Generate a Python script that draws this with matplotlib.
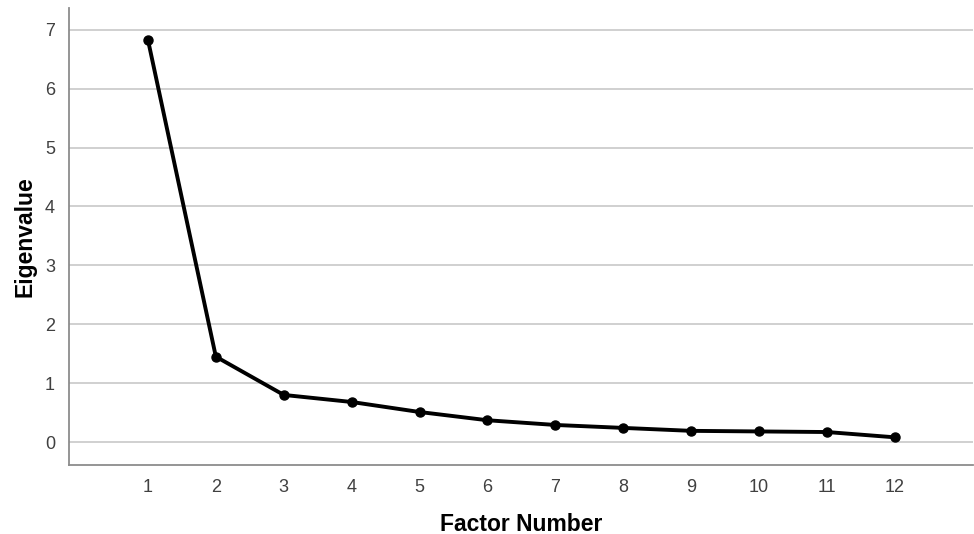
import numpy as np
import matplotlib.pyplot as plt

plt.rcParams['font.family'] = ['Liberation Sans', 'DejaVu Sans']

factors = [1, 2, 3, 4, 5, 6, 7, 8, 9, 10, 11, 12]
eigenvalues = [6.83, 1.45, 0.80, 0.68, 0.51, 0.37, 0.29, 0.24, 0.19, 0.18, 0.17, 0.08]

fig = plt.figure(figsize=(9.74, 5.34), dpi=100)
ax = fig.add_axes([0.0708, 0.1292, 0.9282, 0.8558])

ax.plot(factors, eigenvalues, color='black', linewidth=2.8, marker='o', markersize=6.5, zorder=3)

ax.set_xlim(-0.163, 13.15)
ax.set_ylim(-0.39, 7.37)
ax.set_xticks(factors)
ax.set_yticks(range(0, 8))
ax.yaxis.grid(True, color='#c8c8c8', linewidth=1.2)
ax.set_axisbelow(True)

for s in ['top', 'right']:
    ax.spines[s].set_visible(False)
for s in ['left', 'bottom']:
    ax.spines[s].set_color('#8c8c8c')
    ax.spines[s].set_linewidth(1.3)

ax.tick_params(length=0, labelsize=13, colors='#404040', pad=10)
ax.set_xlabel('Factor Number', fontsize=16.5, fontweight='bold', labelpad=12)
ax.set_ylabel('Eigenvalue', fontsize=16.5, fontweight='bold', labelpad=6)

plt.savefig('out.png', dpi=100)
